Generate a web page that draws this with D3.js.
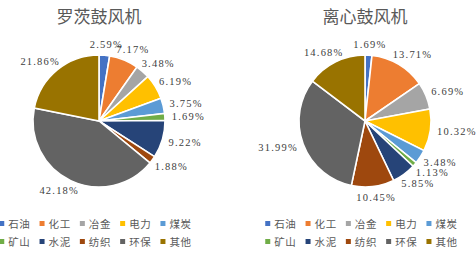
<!DOCTYPE html>
<html lang="zh">
<head>
<meta charset="UTF-8">
<title>鼓风机</title>
<script src="https://d3js.org/d3.v7.min.js"></script>
<style>
  body { margin: 0; background: #fff; }
  svg { display: block; }
  .title { font-family: "Noto Sans CJK SC", sans-serif; font-size: 17px; fill: #595959; }
  .lbl { font-family: "Liberation Serif", "DejaVu Serif", serif; font-size: 10.5px; fill: #404040; letter-spacing: 1.2px; }
  .leg { font-family: "Noto Sans CJK SC", sans-serif; font-size: 10.5px; fill: #595959; letter-spacing: 0.6px; }
</style>
</head>
<body>
<svg width="476" height="258"></svg>
<script>
var categories = ["石油", "化工", "冶金", "电力", "煤炭", "矿山", "水泥", "纺织", "环保", "其他"];
var colors = ["#4472C4", "#ED7D31", "#A5A5A5", "#FFC000", "#5B9BD5", "#70AD47", "#264478", "#9E480E", "#636363", "#997300"];
var rootsValues = [2.59, 7.17, 3.48, 6.19, 3.75, 1.69, 9.22, 1.88, 42.18, 21.86];
var centrifugalValues = [1.69, 13.71, 6.69, 10.32, 3.48, 1.13, 5.85, 10.45, 31.99, 14.68];
var titles = ["罗茨鼓风机", "离心鼓风机"];

var svg = d3.select("svg"),
    radius = 66,
    cy = 121;

var color = d3.scaleOrdinal().domain(categories).range(colors);

var pie = d3.pie().sort(null).value(function (d) { return d.value; });
var arc = d3.arc().innerRadius(0).outerRadius(radius);

function drawPie(cx, title, values) {
    var data = categories.map(function (c, i) { return { name: c, value: values[i] }; });
    var g = svg.append("g").attr("transform", "translate(" + cx + "," + cy + ")");

    svg.append("text")
        .attr("class", "title")
        .attr("x", cx)
        .attr("y", 23)
        .attr("text-anchor", "middle")
        .text(title);

    var arcs = pie(data);

    g.selectAll("path")
        .data(arcs)
        .enter().append("path")
        .attr("d", arc)
        .attr("fill", function (d) { return color(d.data.name); })
        .attr("stroke", "#fff")
        .attr("stroke-width", 1.6);

    // labels sit just outside the rim, pushed out by half their size
    var prevY = null;
    g.selectAll(".lbl")
        .data(arcs)
        .enter().append("text")
        .attr("class", "lbl")
        .attr("text-anchor", "middle")
        .attr("dominant-baseline", "central")
        .text(function (d) { return d.data.value.toFixed(2) + "%"; })
        .each(function (d) {
            var a = (d.startAngle + d.endAngle) / 2,
                box = this.getBBox(),
                h = 8,
                r = radius + 7,
                x = Math.sin(a) * r + Math.sin(a) * box.width / 2,
                y = -Math.cos(a) * r - Math.cos(a) * h / 2;
            // keep right-hand labels from stacking on each other
            if (Math.sin(a) > 0 && prevY !== null && a > Math.PI / 2 && y - prevY < 9.5) y = prevY + 9.5;
            prevY = Math.sin(a) > 0 ? y : null;
            d3.select(this).attr("x", x).attr("y", y);
        });

    // legend: two rows of five, centred under the pie
    var cols = 5, pitch = 40.3;
    var xs = d3.scaleLinear().domain([0, cols]).range([cx - cols * pitch / 2, cx + cols * pitch / 2]);
    var ys = d3.scalePoint().domain([0, 1]).range([223.5, 241.5]);

    var item = svg.append("g").selectAll("g")
        .data(categories)
        .enter().append("g")
        .attr("transform", function (d, i) {
            return "translate(" + xs(i % cols) + "," + ys(Math.floor(i / cols)) + ")";
        });

    item.append("rect")
        .attr("x", 1)
        .attr("y", -2.5)
        .attr("width", 5)
        .attr("height", 5)
        .attr("fill", function (d) { return color(d); });

    item.append("text")
        .attr("class", "leg")
        .attr("x", 10)
        .attr("y", 0)
        .attr("dominant-baseline", "central")
        .text(function (d) { return d; });
}

drawPie(99, titles[0], rootsValues);
drawPie(365, titles[1], centrifugalValues);
</script>
</body>
</html>
